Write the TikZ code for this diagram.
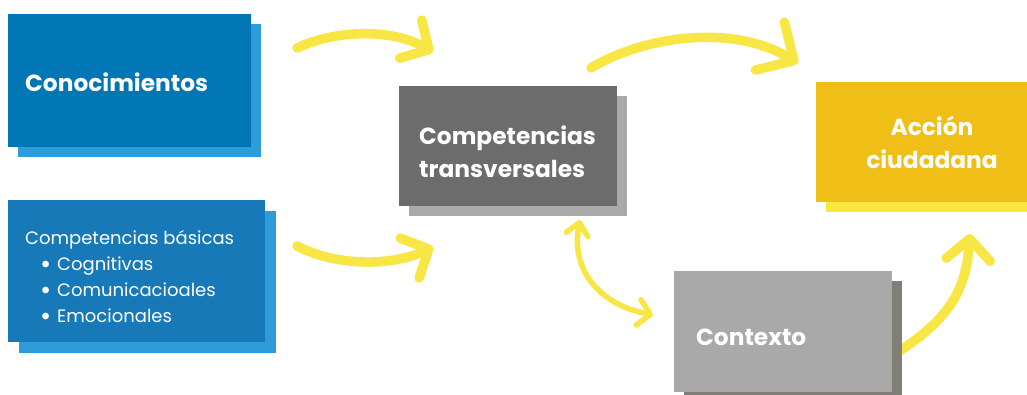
\documentclass[tikz,border=0pt]{standalone}
\usepackage{fontspec}
\setmainfont{Poppins}
\usepackage{graphicx}
\usetikzlibrary{arrows.meta,shadows}
\definecolor{blueA}{HTML}{0076B5}
\definecolor{blueB}{HTML}{1779B7}
\definecolor{blueS}{HTML}{2E9CDB}
\definecolor{greyA}{HTML}{6C6C6C}
\definecolor{greyS}{HTML}{AAAAAA}
\definecolor{goldA}{HTML}{EFBF17}
\definecolor{goldS}{HTML}{F8E641}
\definecolor{ctxA}{HTML}{A9A9A9}
\definecolor{ctxS}{HTML}{817D79}
\definecolor{arrowY}{HTML}{F8E645}
\newcommand{\mybul}{\makebox[17pt][l]{\raisebox{-3pt}{\scalebox{1.5}{•}}}}
\begin{document}
\begin{tikzpicture}[x=1pt,y=-1pt,
  box/.style={rectangle, inner sep=0pt, anchor=north west},
  shad/.style={general shadow={fill=#1, shadow xshift=9.5pt, shadow yshift=-9.5pt}},
  btxt/.style={text=white, font=\bfseries\fontsize{23.3}{27}\selectfont, inner sep=0pt},
  rtxt/.style={text=white, font=\fontsize{18}{22}\selectfont, inner sep=0pt, anchor=base west},
  brush/.style={draw=arrowY, line width=9.5pt, line cap=round, line join=round},
  thinbrush/.style={draw=arrowY, line width=5.5pt, line cap=round, line join=round},
  bighead/.style={-{Straight Barb[length=21pt,width=44pt,round]}},
]
\useasboundingbox (0,0) rectangle (1027,394);

% arrow end points
\coordinate (a1s) at (297,48);  \coordinate (a1e) at (433,52);
\coordinate (a2s) at (297,246); \coordinate (a2e) at (433,247);
\coordinate (a3s) at (591,68);  \coordinate (a3e) at (798,63);
\coordinate (a4s) at (580,220); \coordinate (a4e) at (653,315);
\coordinate (a5s) at (898,352); \coordinate (a5e) at (970,234);

% arrows
\draw[brush, bighead] (a1s) .. controls (340,28) and (395,30) .. (a1e);
\draw[brush, bighead] (a2s) .. controls (340,268) and (395,265) .. (a2e);
\draw[brush, -{Straight Barb[length=28pt,width=56pt,round]}] (a3s) .. controls (640,38) and (730,22) .. (a3e);
\draw[thinbrush, {Straight Barb[length=12pt,width=22pt,round]}-{Straight Barb[length=12pt,width=26pt,round]}] (a4s) .. controls (570,270) and (600,305) .. (a4e);
\draw[brush, bighead] (a5s) .. controls (950,318) and (966,290) .. (a5e);

% boxes
\node[box, shad=blueS, fill=blueA, minimum width=243pt, minimum height=133pt] (con) at (8,14) {};
\node[box, general shadow={fill=blueS, shadow xshift=10.5pt, shadow yshift=-10.5pt}, fill=blueB, minimum width=257pt, minimum height=142pt] (bas) at (8,200) {};
\node[box, shad=greyS, fill=greyA, minimum width=218pt, minimum height=120pt] (tra) at (399,86) {};
\node[box, shad=goldS, fill=goldA, minimum width=211pt, minimum height=120pt] (acc) at (816,82) {};
\node[box, shad=ctxS, fill=ctxA, minimum width=218pt, minimum height=121pt] (ctx) at (674,271) {};

% texts
\node[btxt, anchor=base west] (tcon) at (25,91) {Conocimientos};

\node[rtxt] (tb0) at (25,244) {Competencias básicas};
\node[rtxt] (tb1) at (40,270) {\mybul Cognitivas};
\node[rtxt] (tb2) at (40,296) {\mybul Comunicacioales};
\node[rtxt] (tb3) at (40,322) {\mybul Emocionales};

\node[btxt, anchor=base west] (tt1) at (419,144) {Competencias};
\node[btxt, anchor=base west] (tt2) at (419,177) {transversales};

\node[btxt, anchor=base] (ta1) at (932,135) {Acción};
\node[btxt, anchor=base] (ta2) at (932,168) {ciudadana};

\node[btxt, anchor=base west] (tctx) at (696,345) {Contexto};
\end{tikzpicture}
\end{document}
